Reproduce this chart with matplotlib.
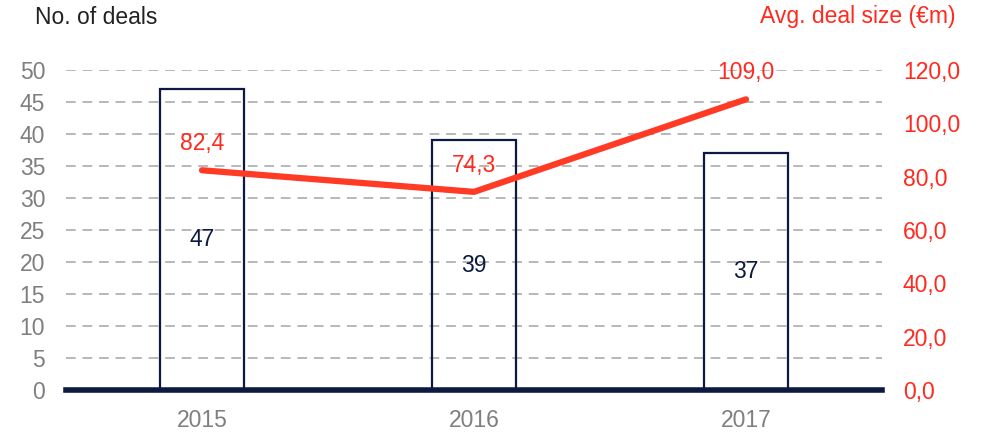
import matplotlib.pyplot as plt

years = ['2015', '2016', '2017']
deals = [47, 39, 37]
avg_size = [82.4, 74.3, 109.0]
avg_labels = ['82,4', '74,3', '109,0']
left_ticks = list(range(0, 55, 5))
right_ticks = [0, 20, 40, 60, 80, 100, 120]

navy = '#0d1a40'
red = '#ff3b26'
red_txt = '#ff2a1f'
grey = '#7f7f7f'
fs = 16.5

plt.rcParams['font.family'] = ['Liberation Sans', 'DejaVu Sans']

fig = plt.figure(figsize=(9.82, 4.33), dpi=100)
ax = fig.add_axes([66 / 982, 1 - 390 / 433, 816 / 982, 320 / 433])
ax2 = ax.twinx()

x = list(range(len(years)))
ax.bar(x, deals, width=0.31, facecolor='none', edgecolor=navy, linewidth=1.6, zorder=3)
for xi, v in zip(x, deals):
    ax.text(xi, v / 2, str(v), ha='center', va='center', fontsize=fs, color=navy, zorder=5)

ax.set_xlim(-0.5, 2.5)
ax.set_ylim(0, 50)
ax.set_yticks(left_ticks)
ax.set_xticks(x)
ax.set_xticklabels(years)
ax.yaxis.grid(True, linestyle=(0, (5, 3.5)), color='#b8b8b8', linewidth=1.4, zorder=0)
ax.set_axisbelow(True)
ax.axhline(0, color=navy, linewidth=4, zorder=6, clip_on=False)
ax.tick_params(axis='both', length=0, labelsize=fs, labelcolor=grey)
ax.tick_params(axis='y', pad=15)
ax.tick_params(axis='x', pad=14)
for s in ax.spines.values():
    s.set_visible(False)

ax2.plot(x, avg_size, color=red, linewidth=4.5, solid_capstyle='round', zorder=4)
for xi, v, lab in zip(x, avg_size, avg_labels):
    ax2.text(xi, v + 10, lab, ha='center', va='center', fontsize=fs, color=red_txt)
ax2.set_ylim(0, 120)
ax2.set_yticks(right_ticks)
ax2.set_yticklabels([f'{t},0' for t in right_ticks])
ax2.tick_params(axis='y', length=0, labelsize=fs, labelcolor=red_txt, pad=15)
for s in ax2.spines.values():
    s.set_visible(False)

fig.text(35 / 982, 1 - 17 / 433, 'No. of deals', fontsize=fs, color='#222222', va='center', ha='left')
fig.text(955 / 982, 1 - 17 / 433, 'Avg. deal size (€m)', fontsize=fs, color=red_txt, va='center', ha='right')

fig.savefig('out.png', dpi=100)
